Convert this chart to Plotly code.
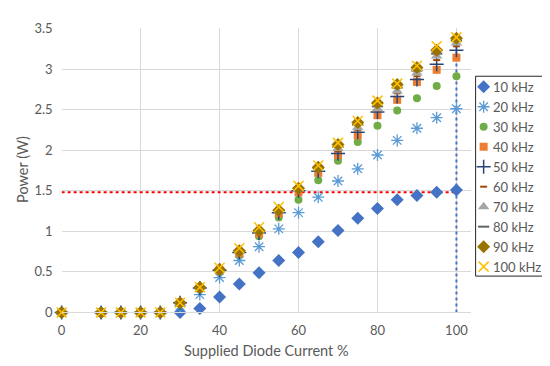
import plotly.graph_objects as go

current = [0, 10, 15, 20, 25, 30, 35, 40, 45, 50, 55, 60, 65, 70, 75, 80, 85, 90, 95, 100]

p10k = [0, 0, 0, 0, 0, 0, 0.05, 0.19, 0.35, 0.49, 0.64, 0.74, 0.87, 1.01, 1.16, 1.28, 1.39, 1.44, 1.48, 1.51]
p20k = [0, 0, 0, 0, 0, 0.08, 0.22, 0.43, 0.64, 0.81, 1.03, 1.23, 1.42, 1.62, 1.77, 1.94, 2.12, 2.27, 2.40, 2.51]
p30k = [0, 0, 0, 0, 0, 0.11, 0.29, 0.50, 0.71, 0.94, 1.17, 1.39, 1.63, 1.87, 2.10, 2.30, 2.49, 2.64, 2.79, 2.91]
p40k = [0, 0, 0, 0, 0, 0.12, 0.30, 0.52, 0.73, 0.97, 1.22, 1.48, 1.72, 1.94, 2.18, 2.43, 2.62, 2.84, 2.99, 3.14]
p50k = [0, 0, 0, 0, 0, 0.12, 0.30, 0.52, 0.74, 0.98, 1.23, 1.50, 1.74, 1.96, 2.22, 2.47, 2.66, 2.87, 3.06, 3.23]
p60k = [0, 0, 0, 0, 0, 0.12, 0.30, 0.53, 0.75, 0.99, 1.24, 1.51, 1.76, 1.99, 2.25, 2.49, 2.70, 2.91, 3.11, 3.28]
p70k = [0, 0, 0, 0, 0, 0.12, 0.31, 0.53, 0.75, 1.00, 1.25, 1.52, 1.77, 2.02, 2.28, 2.51, 2.73, 2.95, 3.16, 3.32]
p80k = [0, 0, 0, 0, 0, 0.12, 0.31, 0.53, 0.76, 1.00, 1.26, 1.53, 1.78, 2.04, 2.31, 2.54, 2.77, 2.98, 3.19, 3.35]
p90k = [0, 0, 0, 0, 0, 0.12, 0.31, 0.53, 0.76, 1.01, 1.26, 1.53, 1.79, 2.07, 2.34, 2.58, 2.81, 3.02, 3.23, 3.38]
p100k = [0, 0, 0, 0, 0, 0.12, 0.31, 0.55, 0.79, 1.05, 1.30, 1.56, 1.81, 2.09, 2.36, 2.61, 2.82, 3.04, 3.28, 3.39]

series_names = ["10 kHz", "20 kHz", "30 kHz", "40 kHz", "50 kHz",
                "60 kHz", "70 kHz", "80 kHz", "90 kHz", "100 kHz"]
series_values = [p10k, p20k, p30k, p40k, p50k, p60k, p70k, p80k, p90k, p100k]

ref_power = 1.48      # horizontal red dotted reference
ref_current = 100     # vertical blue dotted reference
ref_current_top = 3.42

x_ticks = [0, 20, 40, 60, 80, 100]
y_ticks = [0, 0.5, 1, 1.5, 2, 2.5, 3, 3.5]

styles = [
    dict(symbol="diamond", color="#4472C4", size=10, line=dict(width=0)),
    dict(symbol="asterisk-open", color="#5B9BD5", size=10, line=dict(width=1.3, color="#5B9BD5")),
    dict(symbol="circle", color="#70AD47", size=8, line=dict(width=0)),
    dict(symbol="square", color="#ED7D31", size=8, line=dict(width=0)),
    dict(symbol="cross-thin-open", color="#264478", size=10, line=dict(width=1.5, color="#264478")),
    dict(symbol="line-ew-open", color="#9E480E", size=5, line=dict(width=2, color="#9E480E")),
    dict(symbol="triangle-up", color="#A5A5A5", size=10, line=dict(width=0)),
    dict(symbol="line-ew-open", color="#636363", size=8, line=dict(width=2, color="#636363")),
    dict(symbol="diamond", color="#997300", size=10, line=dict(width=0)),
    dict(symbol="x-thin-open", color="#FFC000", size=10, line=dict(width=1.5, color="#FFC000")),
]

W, H = 550, 366
# plot area in pixels
PL, PR, PT, PB = 50, 462, 13, 310
# legend box in pixels
LL, LR, LT, LB = 467, 544, 63, 272
font_family = "Lato, 'Open Sans', sans-serif"
grey = "#595959"

fig = go.Figure()

fig.add_trace(go.Scatter(x=[0, ref_current], y=[ref_power, ref_power], mode="lines",
                         line=dict(color="#FF0000", width=2, dash="dot"),
                         showlegend=False, hoverinfo="skip"))
fig.add_trace(go.Scatter(x=[ref_current, ref_current], y=[0, ref_current_top], mode="lines",
                         line=dict(color="#4472C4", width=2, dash="dot"),
                         showlegend=False, hoverinfo="skip"))

for name, vals, st in zip(series_names, series_values, styles):
    fig.add_trace(go.Scatter(
        x=current, y=vals, mode="markers", name=name, cliponaxis=False, showlegend=False,
        marker=dict(symbol=st["symbol"], color=st["color"], size=st["size"], line=st["line"]),
    ))

# manual legend (symbols on a hidden axis pair inside the legend box)
first_c, step = 74, 20.9
for i, (name, st) in enumerate(zip(series_names, styles)):
    cy = first_c + step * i
    ly = (LB - cy) / (LB - LT)
    fig.add_trace(go.Scatter(
        x=[0.105], y=[ly], xaxis="x2", yaxis="y2", mode="markers", showlegend=False,
        cliponaxis=False, hoverinfo="skip",
        marker=dict(symbol=st["symbol"], color=st["color"], size=st["size"], line=st["line"]),
    ))
    fig.add_annotation(x=(LL + 16) / W, y=(H - cy) / H, xref="paper", yref="paper",
                       text=name, showarrow=False, xanchor="left", yanchor="middle",
                       font=dict(size=13, color=grey, family=font_family))

fig.add_shape(type="rect", xref="paper", yref="paper",
              x0=LL / W, x1=LR / W, y0=(H - LB) / H, y1=(H - LT) / H,
              line=dict(color="#262626", width=1), fillcolor="rgba(0,0,0,0)", layer="above")

fig.add_annotation(x=(PL + PR) / 2 / W, y=(H - 350) / H, xref="paper", yref="paper",
                   text="Supplied Diode Current %", showarrow=False,
                   xanchor="center", yanchor="middle", font=dict(size=14.5, color=grey, family=font_family))
fig.add_annotation(x=10 / W, y=(H - 160) / H, xref="paper", yref="paper",
                   text="Power (W)", showarrow=False, textangle=-90,
                   xanchor="center", yanchor="middle", font=dict(size=14.5, color=grey, family=font_family))

fig.update_layout(
    width=W, height=H,
    margin=dict(l=0, r=0, t=0, b=0),
    paper_bgcolor="white", plot_bgcolor="white",
    font=dict(family=font_family, color=grey, size=12),
    showlegend=False,
    xaxis=dict(domain=[PL / W, PR / W], range=[0, 103.6], tickvals=x_ticks, showgrid=True,
               gridcolor="#D9D9D9", gridwidth=1, zeroline=False, showline=True, linecolor="#D9D9D9",
               ticks="", tickfont=dict(size=13, color=grey), ticklabelstandoff=6),
    yaxis=dict(domain=[(H - PB) / H, (H - PT) / H], range=[0, 3.5], tickvals=y_ticks,
               showgrid=True, gridcolor="#D9D9D9", gridwidth=1, zeroline=False, showline=False,
               ticks="", tickfont=dict(size=13, color=grey), ticklabelstandoff=8),
    xaxis2=dict(domain=[LL / W, LR / W], range=[0, 1], visible=False, fixedrange=True, anchor="y2"),
    yaxis2=dict(domain=[(H - LB) / H, (H - LT) / H], range=[0, 1], visible=False, fixedrange=True, anchor="x2"),
)

fig.write_html("out.html")
